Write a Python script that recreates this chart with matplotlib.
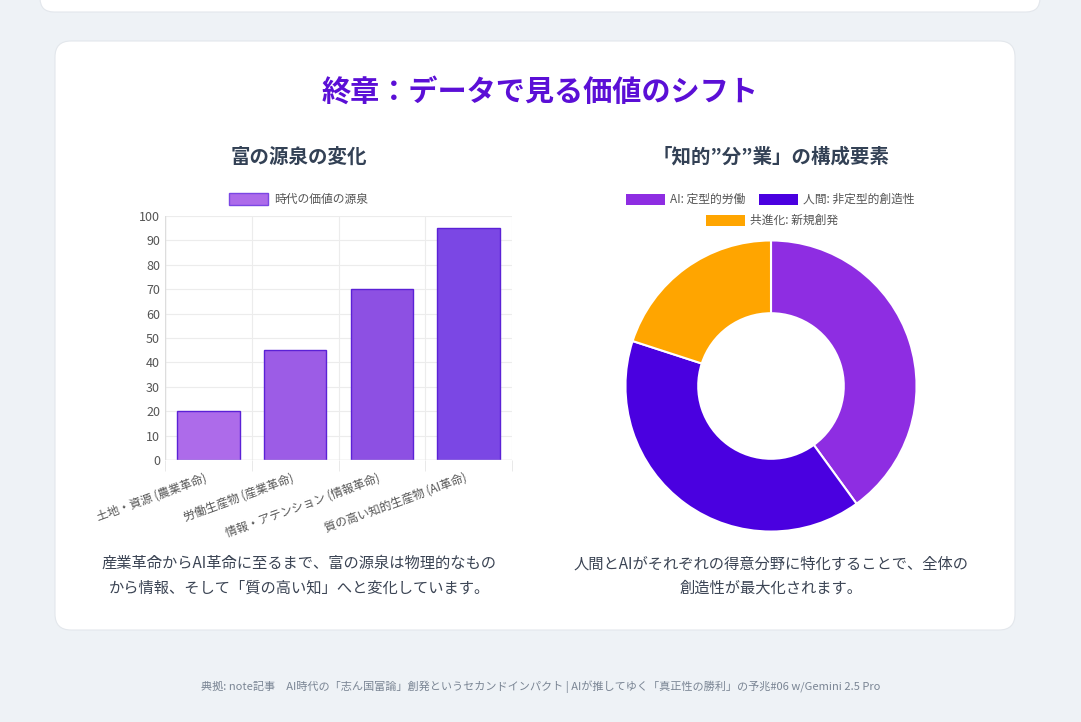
import matplotlib
matplotlib.use('Agg')
from matplotlib import pyplot as plt
from matplotlib.patches import FancyBboxPatch

plt.rcParams['font.family'] = ['Noto Sans CJK JP', 'DejaVu Sans']

# Data
bar_labels = ['土地・資源 (農業革命)', '労働生産物 (産業革命)',
              '情報・アテンション (情報革命)', '質の高い知的生産物 (AI革命)']
bar_values = [20, 45, 70, 95]
bar_colors = ['#ad6bea', '#9c5ce6', '#8d50e3', '#7b47e4']

pie_labels = ['AI: 定型的労働', '人間: 非定型的創造性', '共進化: 新規創発']
pie_values = [40, 40, 20]
pie_colors = ['#8e2de2', '#4a00e0', '#ffa500']

W, H = 1081, 722
fig = plt.figure(figsize=(W / 100, H / 100), dpi=100)
fig.patch.set_facecolor('#eef2f6')

def fx(px):
    return px / W

def fy(py):
    return 1 - py / H

# cards
bg = fig.add_axes([0, 0, 1, 1])
bg.set_xlim(0, W)
bg.set_ylim(H, 0)
bg.axis('off')
bg.add_patch(FancyBboxPatch((40, -40), 1000, 52, boxstyle='round,pad=0,rounding_size=14',
                            fc='white', ec='#e3e7ec', lw=0.8))
bg.add_patch(FancyBboxPatch((55, 41), 960, 589, boxstyle='round,pad=0,rounding_size=16',
                            fc='white', ec='#e3e7ec', lw=0.8))

fig.text(0.5, fy(92), '終章：データで見る価値のシフト', ha='center', va='center',
         fontsize=21, fontweight='bold', color='#5b0fd6')
fig.text(fx(299), fy(157), '富の源泉の変化', ha='center', va='center',
         fontsize=14, fontweight='bold', color='#334155')
fig.text(fx(771), fy(157), '「知的”分”業」の構成要素', ha='center', va='center',
         fontsize=14, fontweight='bold', color='#334155')

# bar chart
ax = fig.add_axes([fx(165), fy(460), fx(512 - 165), (460 - 216) / H])
x = range(len(bar_values))
ax.bar(x, bar_values, width=0.72, color=bar_colors, edgecolor='#5b21d6', linewidth=1)
ax.set_ylim(0, 100)
ax.set_xlim(-0.5, 3.5)
ax.set_yticks(range(0, 101, 10))
ax.set_xticks(list(x))
ax.set_xticklabels(bar_labels, rotation=20, ha='right', fontsize=8.5, color='#555')
ax.tick_params(axis='y', labelsize=9, colors='#555', length=0)
ax.tick_params(axis='x', which='major', length=0, pad=8)
ax.set_xticks([-0.5, 0.5, 1.5, 2.5, 3.5], minor=True)
ax.tick_params(axis='x', which='minor', length=8, color='#e5e5e5')
ax.grid(True, axis='y', color='#ececec', lw=0.8)
ax.grid(True, axis='x', which='minor', color='#ececec', lw=0.8)
ax.set_axisbelow(True)
for s in ax.spines.values():
    s.set_visible(False)
ax.axhline(0, color='#dddddd', lw=1)
ax.axvline(-0.5, color='#dddddd', lw=1)
# legend
bg.add_patch(plt.Rectangle((229, 193), 39, 12, fc='#ad6bea', ec='#7b47e4', lw=1))
bg.text(274, 199, '時代の価値の源泉', va='center', fontsize=8.5, color='#555')

# donut
ax2 = fig.add_axes([fx(624), fy(533), fx(294), 294 / H])
ax2.pie(pie_values, colors=pie_colors, startangle=90, counterclock=False,
        wedgeprops=dict(width=0.5, edgecolor='white', linewidth=1.5))
ax2.set_xlim(-1.01, 1.01)
ax2.set_ylim(-1.01, 1.01)
ax2.set_aspect('equal')
legend_pos = [(626, 199), (759, 199), (706, 220)]
for (lx, ly), lab, c in zip(legend_pos, pie_labels, pie_colors):
    bg.add_patch(plt.Rectangle((lx, ly - 5), 39, 11, fc=c, ec='none'))
    bg.text(lx + 44, ly, lab, va='center', fontsize=8.5, color='#555')

# captions
fig.text(fx(299), fy(576), '産業革命からAI革命に至るまで、富の源泉は物理的なもの\nから情報、そして「質の高い知」へと変化しています。',
         ha='center', va='center', fontsize=11, color='#3b4454', linespacing=1.6)
fig.text(fx(771), fy(576), '人間とAIがそれぞれの得意分野に特化することで、全体の\n創造性が最大化されます。',
         ha='center', va='center', fontsize=11, color='#3b4454', linespacing=1.6)

fig.text(0.5, fy(687), '典拠: note記事　AI時代の「志ん国富論」創発というセカンドインパクト | AIが推してゆく「真正性の勝利」の予兆#06 w/Gemini 2.5 Pro',
         ha='center', va='center', fontsize=8, style='italic', color='#7a8594')

fig.savefig('out.png', dpi=100, facecolor=fig.get_facecolor())
